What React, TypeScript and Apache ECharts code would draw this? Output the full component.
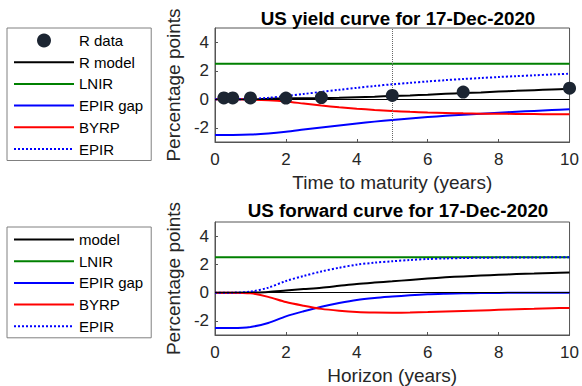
import React, { useEffect, useRef } from "react";
import * as echarts from "echarts";

// ---- Yield curve (top panel) ----
const yieldX = [0, 0.5, 1, 1.5, 2, 2.5, 3, 3.5, 4, 4.5, 5, 5.5, 6, 6.5, 7, 7.5, 8, 8.5, 9, 9.5, 10];
const yieldRModel = [0, 0, 0, 0.03, 0.06, 0.07, 0.08, 0.1, 0.14, 0.18, 0.23, 0.27, 0.32, 0.38, 0.43, 0.48, 0.54, 0.59, 0.64, 0.69, 0.73];
const yieldLNIR = [2.5, 2.5, 2.5, 2.5, 2.5, 2.5, 2.5, 2.5, 2.5, 2.5, 2.5, 2.5, 2.5, 2.5, 2.5, 2.5, 2.5, 2.5, 2.5, 2.5, 2.5];
const yieldEPIRgap = [-2.5, -2.5, -2.48, -2.4, -2.28, -2.13, -1.98, -1.84, -1.7, -1.57, -1.45, -1.35, -1.25, -1.16, -1.08, -1.01, -0.94, -0.88, -0.82, -0.76, -0.71];
const yieldBYRP = [0, 0, -0.02, -0.07, -0.16, -0.3, -0.44, -0.56, -0.66, -0.75, -0.82, -0.88, -0.93, -0.96, -0.99, -1.01, -1.02, -1.03, -1.04, -1.05, -1.06];
const yieldEPIR = [0, 0, 0.02, 0.1, 0.22, 0.37, 0.52, 0.66, 0.8, 0.93, 1.05, 1.15, 1.25, 1.34, 1.42, 1.49, 1.56, 1.62, 1.68, 1.74, 1.79];
const dataMaturities = [0.25, 0.5, 1, 2, 3, 5, 7, 10];
const dataYields = [0.09, 0.09, 0.09, 0.08, 0.12, 0.27, 0.5, 0.78];

// ---- Forward curve (bottom panel) ----
const fwdX = [0, 0.5, 1, 1.5, 2, 2.5, 3, 3.5, 4, 4.5, 5, 5.5, 6, 6.5, 7, 7.5, 8, 8.5, 9, 9.5, 10];
const fwdModel = [0, 0, 0.01, 0.05, 0.15, 0.25, 0.35, 0.48, 0.61, 0.71, 0.8, 0.9, 1.0, 1.08, 1.15, 1.21, 1.26, 1.31, 1.35, 1.39, 1.42];
const fwdLNIR = [2.5, 2.5, 2.5, 2.5, 2.5, 2.5, 2.5, 2.5, 2.5, 2.5, 2.5, 2.5, 2.5, 2.5, 2.5, 2.5, 2.5, 2.5, 2.5, 2.5, 2.5];
const fwdEPIRgap = [-2.5, -2.5, -2.43, -2.15, -1.68, -1.32, -1.0, -0.74, -0.52, -0.38, -0.28, -0.19, -0.12, -0.08, -0.05, -0.03, -0.02, -0.01, -0.01, 0, 0];
const fwdBYRP = [0, 0, -0.05, -0.3, -0.67, -0.93, -1.15, -1.28, -1.37, -1.41, -1.42, -1.41, -1.38, -1.34, -1.3, -1.26, -1.22, -1.18, -1.15, -1.11, -1.08];
const fwdEPIR = [0, 0, 0.07, 0.35, 0.82, 1.18, 1.5, 1.76, 1.98, 2.12, 2.22, 2.31, 2.38, 2.42, 2.45, 2.47, 2.48, 2.49, 2.49, 2.5, 2.5];

const yTicks = [-2, 0, 2, 4];

const FONT = "'Liberation Sans', Arial, Helvetica, sans-serif";
const TXT = "#262626";

const zip = (xs: number[], ys: number[]) => xs.map((x, i) => [x, ys[i]]);

export default function App() {
  const ref = useRef<HTMLDivElement>(null);
  useEffect(() => {
    if (!ref.current) return;
    const chart = echarts.init(ref.current, undefined, { renderer: "svg" });

    const mkX = (idx: number, name: string, nameGap: number) => ({
      type: "value",
      gridIndex: idx,
      min: 0,
      max: 10,
      interval: 2,
      name,
      nameLocation: "middle",
      nameGap,
      nameTextStyle: { fontFamily: FONT, fontSize: 19, color: TXT },
      axisLine: { show: true, onZero: false, lineStyle: { color: "#555", width: 1 } },
      axisTick: { show: true, inside: true, length: 3, lineStyle: { color: "#555" } },
      axisLabel: { fontFamily: FONT, fontSize: 17, color: TXT, margin: 9 },
      splitLine: { show: false },
    });
    const mkY = (idx: number) => ({
      type: "value",
      gridIndex: idx,
      min: -3,
      max: 5,
      name: "Percentage points",
      nameLocation: "middle",
      nameGap: 22,
      nameTextStyle: { fontFamily: FONT, fontSize: 19, color: TXT },
      axisLine: { show: true, onZero: false, lineStyle: { color: "#555", width: 1 } },
      axisTick: { show: true, inside: true, length: 3, customValues: yTicks, lineStyle: { color: "#555" } },
      axisLabel: { fontFamily: FONT, fontSize: 17, color: TXT, margin: 6, customValues: yTicks },
      splitLine: { show: false },
    });

    const line = (name: string, xi: number, xs: number[], ys: number[], color: string, type: string = "solid", extra: any = {}) => ({
      type: "line",
      name,
      xAxisIndex: xi,
      yAxisIndex: xi,
      data: zip(xs, ys),
      symbol: "none",
      smooth: 0.3,
      lineStyle: { color, width: 2, type },
      itemStyle: { color },
      ...extra,
    });

    const zeroLine = (withVertical: boolean) => ({
      markLine: {
        silent: true,
        symbol: "none",
        label: { show: false },
        animation: false,
        data: [
          { yAxis: 0, lineStyle: { color: "#000", width: 1, type: "solid" } },
          ...(withVertical ? [{ xAxis: 5, lineStyle: { color: "#666", width: 1, type: "dotted" } }] : []),
        ],
      },
    });

    const legendBase = {
      orient: "vertical",
      left: 7,
      itemWidth: 60,
      itemHeight: 14,
      itemGap: 6.7,
      padding: [5, 8, 4, 6],
      borderColor: "#808080",
      borderWidth: 1,
      textStyle: { fontFamily: FONT, fontSize: 15, color: "#000" },
      selectedMode: false,
    };
    const lineItem = (name: string) => ({ name, itemStyle: { opacity: 0 } });

    chart.setOption({
      animation: false,
      title: [
        {
          text: "US yield curve for 17-Dec-2020",
          left: 393,
          textAlign: "center",
          top: 4,
          textStyle: { fontFamily: FONT, fontSize: 18.8, fontWeight: "bold", color: "#000" },
        },
        {
          text: "US forward curve for 17-Dec-2020",
          left: 393,
          textAlign: "center",
          top: 196,
          textStyle: { fontFamily: FONT, fontSize: 18.8, fontWeight: "bold", color: "#000" },
        },
      ],
      grid: [
        { left: 215, top: 28, width: 355, height: 114, show: true, borderColor: "#555", borderWidth: 1, backgroundColor: "transparent" },
        { left: 215, top: 222, width: 355, height: 114, show: true, borderColor: "#555", borderWidth: 1, backgroundColor: "transparent" },
      ],
      xAxis: [mkX(0, "Time to maturity (years)", 31), mkX(1, "Horizon (years)", 31)],
      yAxis: [mkY(0), mkY(1)],
      legend: [
        {
          ...legendBase,
          top: 28,
          data: [{ name: "R data", itemStyle: { opacity: 1 } }, lineItem("R model"), lineItem("LNIR"), lineItem("EPIR gap"), lineItem("BYRP"), lineItem("EPIR")],
        },
        {
          ...legendBase,
          top: 227,
          data: [lineItem("model"), lineItem("LNIR"), lineItem("EPIR gap"), lineItem("BYRP"), lineItem("EPIR")],
        },
      ],
      series: [
        line("R model", 0, yieldX, yieldRModel, "#000", "solid", zeroLine(true)),
        line("LNIR", 0, yieldX, yieldLNIR, "#008000"),
        line("EPIR gap", 0, yieldX, yieldEPIRgap, "#0000ff"),
        line("BYRP", 0, yieldX, yieldBYRP, "#ff0000"),
        line("EPIR", 0, yieldX, yieldEPIR, "#0000ff", "dotted"),
        {
          type: "scatter",
          name: "R data",
          xAxisIndex: 0,
          yAxisIndex: 0,
          data: zip(dataMaturities, dataYields),
          symbol: "circle",
          symbolSize: 13,
          itemStyle: { color: "#1c2532", opacity: 1 },
          z: 5,
        },
        line("model", 1, fwdX, fwdModel, "#000", "solid", zeroLine(false)),
        line("LNIR", 1, fwdX, fwdLNIR, "#008000"),
        line("EPIR gap", 1, fwdX, fwdEPIRgap, "#0000ff"),
        line("BYRP", 1, fwdX, fwdBYRP, "#ff0000"),
        line("EPIR", 1, fwdX, fwdEPIR, "#0000ff", "dotted"),
      ],
    });
    return () => chart.dispose();
  }, []);
  return (
    <div
      ref={ref}
      style={{ position: "fixed", left: 0, top: 0, width: 582, height: 386, background: "#fff" }}
    />
  );
}
